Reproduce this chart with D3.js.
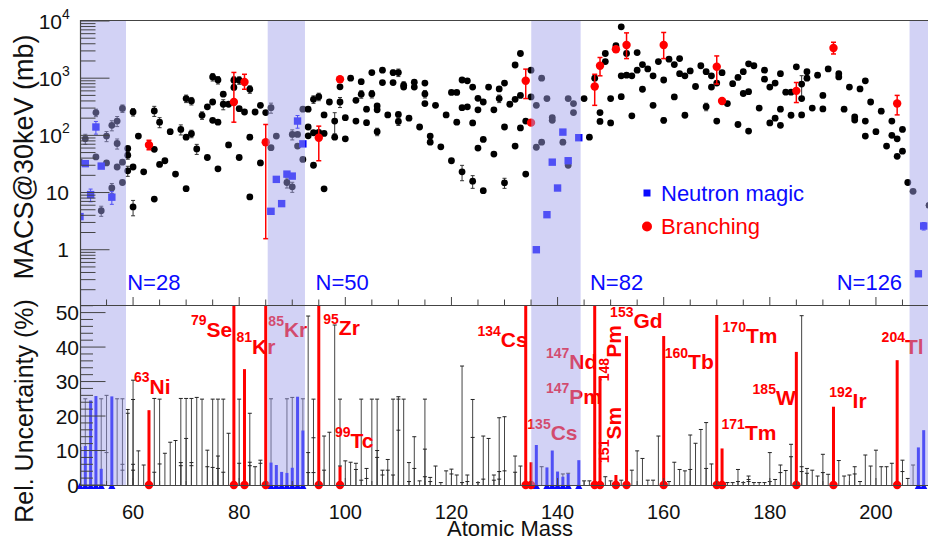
<!DOCTYPE html>
<html><head><meta charset="utf-8">
<script src="https://cdn.jsdelivr.net/npm/d3@7"></script>
<style>
body{margin:0;background:#fff}
svg{display:block;font-family:"Liberation Sans",Arial,Helvetica,sans-serif}
</style></head>
<body><svg id="c" width="928" height="541"></svg>
<script>
// ---------- DATA ----------
// neutron-magic shaded mass ranges
const magicBands = [[50, 58.67], [85.37, 92.4], [135.04, 144.35], [206.34, 212]];
const magicLabels = [["N=28", 58.9], ["N=50", 94.4], ["N=82", 146.1], ["N=126", 192.6]];

// MACS of ordinary isotopes: [A, MACS(mb), rel. error shown in plot]
const macsOther = [
[50,34,0],[51,87,.2],[53,42,0],[53,250,.15],[54,4.8,.2],[55,97,.2],[55,33,0],[56,150,.2],[56,12,.2],
[57,178,.2],[57,72,.2],[57,28,0],[58,296,.15],[58,34,0],[58,15,0],[59,59,0],[59,45,.15],[59,24,.2],
[60,256,.15],[60,28,0],[60,5.6,.3],[61,97,0],[62,23,0],[64,268,.2],[64,57,0],[64,7.7,0],[65,170,.2],
[65,31,0],[66,36,0],[67,116,0],[68,21,0],[69,127,.2],[70,440,.15],[70,93,0],[70,11.7,0],[71,400,.15],
[71,107,.15],[72,58,.2],[73,224,.15],[74,315,0],[74,41,0],[75,1050,.15],[75,383,0],[75,183,0],
[76,930,.15],[76,170,0],[76,26,0],[77,525,0],[77,350,.2],[78,350,0],[78,68,0],[79,920,.15],[79,690,0],
[80,920,.15],[80,293,0],[80,41,0],[81,256,0],[82,640,.15],[82,93,0],[82,8.4,0],[83,256,0],[84,335,0],
[84,33,0],[85,250,0],[86,305,.2],[86,61,0],[87,97,0],[89,15,.2],[90,104,.2],[90,12.6,.2],[91,104,0],
[91,65,0],[92,287,0],[92,38,0],[93,287,0],[93,140,0],[93,98,0],[94,427,.15],[94,111,0],[94,30,0],
[95,475,.15],[95,113,0],[96,228,0],[96,108,0],[96,11.6,0],[97,383,0],[98,178,.4],[98,93,0],[99,705,0],
[99,383,.2],[100,204,0],[100,87,0],[101,1000,0],[102,410,0],[102,178,0],[103,870,0],[103,525,.15],
[104,287,0],[104,167,0],[105,1255,0],[105,530,.15],[106,327,0],[106,280,0],[106,116,.15],[107,1380,0],
[107,838,0],[108,228,0],[109,1255,.1],[109,838,0],[110,1255,.15],[110,232,0],[110,175,.15],[111,755,.15],
[111,700,0],[112,200,0],[113,850,0],[113,700,0],[114,140,0],[115,820,0],[115,530,.15],[115,360,0],
[116,97,0],[116,76,0],[117,335,0],[118,63,0],[119,228,0],[120,563,0],[120,36,0],[121,563,0],[121,170,0],
[122,930,0],[122,305,0],[122,23,.3],[123,900,0],[123,315,0],[124,700,0],[124,165,0],[124,15.8,.25],
[125,445,0],[125,280,0],[125,60,0],[126,383,0],[126,85,0],[126,10.8,0],[127,700,0],[128,280,0],[128,47,0],
[129,650,0],[129,440,.15],[130,820,0],[130,140,0],[130,14.8,.2],[131,350,0],[132,1700,0],[132,427,0],
[132,65,0],[133,2700,0],[133,500,0],[133,135,0],[134,178,0],[134,21,0],[135,1380,0],[135,470,0],
[136,335,0],[136,62,0],[137,1000,0],[137,76,0],[138,440,0],[139,183,0],[139,205,0],[141,76,0],[142,440,0],
[142,30,0],[143,360,0],[143,250,0],[145,440,0],[146,93,0],[147,1000,0],[148,250,0],[148,175,0],
[149,2700,0],[149,1950,0],[150,440,0],[150,165,0],[151,3700,0],[152,7900,0],[152,1100,0],[152,475,0],
[153,2700,0],[153,1130,0],[154,1100,0],[154,220,0],[155,2800,0],[155,1380,0],[156,1730,0],[156,640,0],
[157,1450,0],[158,1100,0],[158,335,0],[159,1950,0],[160,930,0],[160,183,.1],[161,2150,0],[162,1730,0],
[162,470,0],[163,2200,0],[163,1200,0],[164,1100,0],[164,225,0],[165,1340,0],[166,715,0],[167,1650,0],
[168,1300,0],[168,317,.15],[169,1100,0],[169,700,0],[170,820,0],[170,178,0],[171,1250,0],[172,360,0],
[173,800,0],[174,1030,0],[174,155,0],[175,1300,0],[175,540,0],[176,1780,0],[176,580,0],[176,119,0],
[177,1650,0],[178,300,0],[179,1380,0],[179,960,0],[180,700,0],[180,165,0],[181,820,0],[181,200,0],
[182,1200,0],[182,287,0],[182,150,0],[183,570,0],[184,570,0],[184,225,0],[185,1580,0],[186,790,.4],
[186,440,0],[186,228,0],[187,1300,0],[187,1000,0],[188,300,0],[189,1130,0],[190,500,0],[190,290,0],
[191,1450,0],[193,1200,0],[193,1050,0],[194,287,0],[195,700,0],[196,210,0],[196,185,0],[197,650,0],
[198,900,0],[198,178,0],[198,97,0],[199,383,0],[200,116,0],[201,265,0],[202,65,0],[203,178,0],[203,100,0],
[204,87,0],[204,43,0],[205,127,0],[205,53,0],[206,15,0],[207,10.5,0],[210,6,0]
];
// neutron magic isotopes: [A, MACS, rel. error]
const macsMagic = [
[50,3.8,0],[51,32,0],[52,9.2,.25],[53,140,.25],[54,29,0],[56,8.3,.25],[86,4.7,0],[87,17,0],[88,6.4,0],
[89,21,0],[90,19.4,0],[91,178,.25],[92,71,0],[136,1.0,0],[138,4.1,0],[139,34,0],[140,12,0],[141,114,0],
[142,36,0],[144,91,0],[208,0.38,0],[209,2.6,.15]
];
// branching points: [A, MACS, low, high]
const macsBranch = [
[63,68,56,82],[79,383,170,1260],[81,860,640,1170],[85,76,1.56,155],[95,91,36,145],[99,960,960,960],
[134,900,440,1440],[135,167,167,167],[147,715,335,1170],[148,1650,1100,2300],[151,3200,3200,3200],
[153,3800,2200,6200],[160,3800,2200,6300],[170,1580,790,2450],[171,400,400,400],[185,600,375,840],
[192,3370,2650,4250],[204,360,228,500]
];

// relative uncertainties (%) : [A, value]
const uncOther = [
[51,25],[54,25],[55,26],[55,9.4],[57,25],[58,25],[58,6],[58,4.3],
[59,21.9],[59,20.8],[60,30.4],[60,24.8],[60,6],[60,4.3],[61,9.9],[62,5.8],[64,25.1],[64,3.7],[65,24.9],
[65,6.1],[66,9.2],[67,12.4],[68,12.9],[69,25.1],[69,6.5],[69,5.6],[70,25.1],[70,13.5],[71,25.1],[71,6.5],
[71,5.6],[72,25.4],[73,24.9],[74,10.1],[74,5.3],[75,24.9],[75,5.1],[76,24.9],[76,8.4],[76,4.8],[77,24.9],
[77,3.7],[78,15],[80,24.9],[80,6.3],[82,20.8],[82,6.6],[82,5.6],[83,5.3],[84,7.2],[84,6.3],
[86,25],[89,25],[90,25.4],[92,25],
[93,49],[93,9.4],[93,3.6],[94,24.9],[94,13.7],[94,3.6],[96,14.2],[96,4.3],[97,15.3],[98,46.4],[99,24.9],
[99,5.5],[100,7],[101,6.6],[102,6.3],[102,4.5],[103,24.9],[103,1.4],[104,4.8],[104,1.9],[105,24.9],
[106,24.9],[106,10],[106,8],[107,4.3],[107,2.9],[108,7.4],[108,4.3],[109,24.9],[109,2.9],[110,25.6],
[110,24.9],[110,15.9],[111,24.9],[112,6.5],[112,1],[113,14],[113,4.8],[114,1.2],[115,24.9],[115,10.4],
[115,2.4],[116,2.2],[116,1],[117,5.5],[118,0.7],[119,4.1],[120,4.6],[120,3.2],[121,2.9],[122,34.5],
[122,0.7],[123,2.9],[123,1],[124,24.8],[124,13.8],[125,0.7],[126,14.2],[126,1.7],[127,13.5],[128,2.9],
[128,1.4],[129,19.5],[129,3.9],[129,1.7],[130,19.8],[130,4.1],[132,8.4],[132,3.7],[133,5.5],
[137,5.3],[141,3.2],[142,3.4],
[145,1.2],[146,1.2],[149,2.4],[150,1.2],[152,1.4],[154,4.3],[155,9.9],[156,7.7],[157,1.4],[158,1.4],
[159,14.2],[161,1],[162,6.6],[163,4.5],[164,4.1],[165,14.5],[165,4.5],[166,12.1],[167,16.1],[168,18.1],
[168,4.8],[169,6.1],[172,0.7],[173,0.7],[174,4.5],[174,1],[175,0.7],[176,2.6],[176,1.6],[176,1],[177,0.7],
[178,0.7],[179,0.7],[180,9.4],[180,1],[181,1.6],[182,5.8],[182,3.6],[183,4.2],[184,11.8],[184,8.2],
[186,49.1],[186,5.3],[186,3.9],[187,4.8],[187,3.4],[188,4.3],[189,2.6],[190,8.9],[190,3.6],[191,3.1],
[193,7.1],[194,2.6],[195,2.9],[196,5.3],[196,3.2],[197,1],[198,8.7],[199,5.5],[200,10.1],[201,5.3],
[202,5.3],[203,6.3],[205,7.2],[205,3.9],[206,1.9],[207,5.8]
];
const uncMagic = [
[50,11.1],[51,11.3],[52,24.5],[53,25.8],[54,4.7],[56,25.7],[86,6.5],[87,5.8],[88,3.8],[89,3.5],[90,5],
[91,25.6],[92,15.8],[136,11.6],[138,5.1],[139,10],[140,3.9],[141,2.4],[142,3.2],[144,7.2],[208,10.9],[209,15.9]
];
const uncBranch = [
[63,21.7],[79,100],[81,33.6],[85,100],[95,100],[99,5.3],[134,100],[135,6.6],[147,100],[148,31.4],
[151,2.9],[153,43.2],[160,43.2],[170,49.3],[171,10.6],[185,38.6],[192,22.7],[204,36.2]
];
// isotope labels: [mass number, element, A-position, %-position, rotated]
const isoLabels = [
["63","Ni",60.18,26.4,0],["79","Se",70.9,43.0,0],["81","Kr",79.5,38.0,0],["85","Kr",85.5,42.9,0],
["95","Zr",95.85,43.5,0],["99","Tc",98.05,10.6,0],["134","Cs",124.9,40.0,0],["147","Nd",137.8,33.5,0],
["147","Pm",137.8,23.4,0],["135","Cs",134.3,13.0,0],["153","Gd",149.9,45.4,0],["160","Tb",160.2,33.5,0],
["170","Tm",171.1,41.1,0],["171","Tm",170.9,13.0,0],["185","W",176.75,23.2,0],["192","Ir",191.2,22.2,0],
["204","Tl",201.07,38.0,0],["148","Pm",151.94,30.1,1],["151","Sm",151.94,6.4,1]
];
const yTopTicks = [[1,"1",""],[10,"10",""],[100,"10","2"],[1000,"10","3"],[10000,"10","4"]];
const yBotTicks = [0,10,20,30,40,50];
const xTicks = [60,80,100,120,140,160,180,200];

// ---------- DRAW ----------
const svg = d3.select("#c");
const RED = "#ff0000", BLUE = "#0a0aff", AX = "#444";
const x = d3.scaleLinear().domain([50, 210]).range([80, 929]);
const yT = d3.scaleLog().domain([0.108, 1e4]).range([305, 21]);
const yB = d3.scaleLinear().domain([0, 52.2]).range([485, 305]).clamp(true);

const defs = svg.append("defs");
defs.append("clipPath").attr("id","clipT").append("rect").attr("x",80).attr("y",20).attr("width",850).attr("height",286);
defs.append("clipPath").attr("id","clipB").append("rect").attr("x",80).attr("y",305).attr("width",850).attr("height",190);

// ----- top panel -----
const gT = svg.append("g").attr("clip-path","url(#clipT)");
function errBar(g, cx, y1, y2, col, w, capw){
  g.append("line").attr("x1",cx).attr("x2",cx).attr("y1",y1).attr("y2",y2).attr("stroke",col).attr("stroke-width",w);
  [y1,y2].forEach(yy=>g.append("line").attr("x1",cx-capw).attr("x2",cx+capw).attr("y1",yy).attr("y2",yy).attr("stroke",col).attr("stroke-width",w));
}
macsOther.forEach(d=>{ if(d[2]>0) errBar(gT, x(d[0]), yT(d[1]*(1-d[2])), yT(d[1]*(1+d[2])), "#333", 1, 2); });
gT.selectAll("circle.o").data(macsOther).join("circle").attr("class","o")
  .attr("cx",d=>x(d[0])).attr("cy",d=>yT(d[1])).attr("r",3.4).attr("fill","#000");
macsMagic.forEach(d=>{ if(d[2]>0) errBar(gT, x(d[0]), yT(d[1]*(1-d[2])), yT(d[1]*(1+d[2])), BLUE, 1, 2); });
gT.selectAll("rect.m").data(macsMagic).join("rect").attr("class","m")
  .attr("x",d=>x(d[0])-3.7).attr("y",d=>yT(d[1])-3.7).attr("width",7.4).attr("height",7.4).attr("fill",BLUE);
macsBranch.forEach(d=>{ if(d[3]>d[2]) errBar(gT, x(d[0]), yT(d[2]), yT(d[3]), RED, 1.5, 2.5); });
gT.selectAll("circle.b").data(macsBranch).join("circle").attr("class","b")
  .attr("cx",d=>x(d[0])).attr("cy",d=>yT(d[1])).attr("r",4.2).attr("fill",RED);

// legend
svg.append("rect").attr("x",643.5).attr("y",189.5).attr("width",7).attr("height",7).attr("fill",BLUE);
svg.append("text").attr("x",661).attr("y",201).attr("font-size",22).attr("fill",BLUE).text("Neutron magic");
svg.append("circle").attr("cx",647).attr("cy",226.5).attr("r",5).attr("fill",RED);
svg.append("text").attr("x",661).attr("y",234).attr("font-size",22).attr("fill",RED).text("Branching");
// N labels
magicLabels.forEach(d=>svg.append("text").attr("x",x(d[1])).attr("y",290).attr("font-size",22).attr("fill",BLUE).text(d[0]));

// ----- bottom panel -----
const gB = svg.append("g").attr("clip-path","url(#clipB)");
uncOther.forEach(d=>{
  const cx = x(d[0]), yy = yB(d[1]);
  gB.append("line").attr("x1",cx).attr("x2",cx).attr("y1",yB(0)).attr("y2",yy).attr("stroke","#444").attr("stroke-width",1);
  gB.append("line").attr("x1",cx-2).attr("x2",cx+2).attr("y1",yy).attr("y2",yy).attr("stroke","#222").attr("stroke-width",1);
});
gB.selectAll("rect.um").data(uncMagic).join("rect").attr("class","um")
  .attr("x",d=>x(d[0])-1.5).attr("y",d=>yB(d[1])).attr("width",3).attr("height",d=>yB(0)-yB(d[1])).attr("fill",BLUE);
gB.selectAll("rect.ub").data(uncBranch).join("rect").attr("class","ub")
  .attr("x",d=>x(d[0])-1.5).attr("y",d=>yB(d[1])).attr("width",3).attr("height",d=>yB(0)-yB(d[1])).attr("fill",RED);
// labels
isoLabels.forEach(d=>{
  const t = svg.append("text").attr("font-weight","bold").attr("fill",RED);
  if(d[4]) t.attr("transform",`translate(${x(d[2])},${yB(d[3])}) rotate(-90)`);
  else t.attr("x",x(d[2])).attr("y",yB(d[3]));
  t.append("tspan").attr("font-size",14).attr("dy",-11.5).text(d[0]);
  t.append("tspan").attr("font-size",21).attr("dy",11.5).text(d[1]);
});
// zero markers
svg.selectAll("path.tri").data(uncMagic).join("path").attr("class","tri")
  .attr("d",d=>{const cx=x(d[0]);return `M${cx-3.6},489 L${cx+3.6},489 L${cx},482.5 Z`;}).attr("fill",BLUE);
svg.selectAll("circle.zb").data(uncBranch).join("circle").attr("class","zb")
  .attr("cx",d=>x(d[0])).attr("cy",485).attr("r",4.2).attr("fill",RED);

// ----- magic bands (translucent overlay) -----
svg.selectAll("rect.band").data(magicBands).join("rect").attr("class","band")
  .attr("x",d=>x(d[0])).attr("width",d=>x(d[1])-x(d[0])).attr("y",20.5).attr("height",464.5)
  .attr("fill","rgb(160,160,234)").attr("fill-opacity",0.47);

// ----- axes / frames -----
const ax = svg.append("g").attr("stroke",AX).attr("fill","none");
ax.append("line").attr("x1",80.5).attr("x2",80.5).attr("y1",20).attr("y2",485.5).attr("stroke-width",1.2);
ax.append("line").attr("x1",80).attr("x2",928).attr("y1",20.5).attr("y2",20.5);
ax.append("line").attr("x1",80).attr("x2",928).attr("y1",305.5).attr("y2",305.5).attr("stroke-width",1.2);
ax.append("line").attr("x1",80).attr("x2",928).attr("y1",485.5).attr("y2",485.5).attr("stroke-width",1.2);
// top y ticks (log)
const minorT = [];
for(let e=-1;e<4;e++) for(let m=1;m<10;m++){const v=m*Math.pow(10,e); if(v>=0.108 && v<=1e4) minorT.push(v);}
minorT.push(1e4);
minorT.forEach(v=>{
  const major = Math.abs(Math.log10(v)-Math.round(Math.log10(v)))<1e-9;
  ax.append("line").attr("x1",80.5).attr("x2",80.5+(major?29:15)).attr("y1",yT(v)).attr("y2",yT(v));
});
// bottom y ticks
d3.range(0,52.1,2).forEach(v=>{
  const major = v%10===0;
  ax.append("line").attr("x1",80.5).attr("x2",80.5+(major?25:12.5)).attr("y1",yB(v)).attr("y2",yB(v));
});
// x ticks
d3.range(55,210,5).forEach(v=>{
  const major = v%20===0;
  ax.append("line").attr("x1",x(v)).attr("x2",x(v)).attr("y1",305).attr("y2",305-(major?8:5.5));
  ax.append("line").attr("x1",x(v)).attr("x2",x(v)).attr("y1",485).attr("y2",485-(major?7:4));
});
// tick labels
yTopTicks.forEach(d=>{
  const t = svg.append("text").attr("y",yT(d[0])+7.5).attr("font-size",21).attr("fill","#111");
  if(d[2]){ t.attr("x",62).attr("text-anchor","end").text(d[1]);
    svg.append("text").attr("x",62).attr("y",yT(d[0])-2).attr("font-size",14).attr("fill","#111").text(d[2]); }
  else t.attr("x",69).attr("text-anchor","end").text(d[1]);
});
yBotTicks.forEach(v=>svg.append("text").attr("x",79).attr("y",yB(v)+7.5).attr("text-anchor","end").attr("font-size",21).attr("fill","#111").text(v));
xTicks.forEach(v=>svg.append("text").attr("x",x(v)).attr("y",519).attr("text-anchor","middle").attr("font-size",20).attr("fill","#111").text(v));
// titles
svg.append("text").attr("transform","translate(33,157) rotate(-90)").attr("text-anchor","middle").attr("font-size",27).attr("fill","#111").text("MACS@30keV (mb)");
svg.append("text").attr("transform","translate(33,411) rotate(-90)").attr("text-anchor","middle").attr("font-size",25).attr("fill","#111").text("Rel. Uncertainty (%)");
svg.append("text").attr("x",510).attr("y",536).attr("text-anchor","middle").attr("font-size",22).attr("fill","#111").text("Atomic Mass");
</script></body></html>
